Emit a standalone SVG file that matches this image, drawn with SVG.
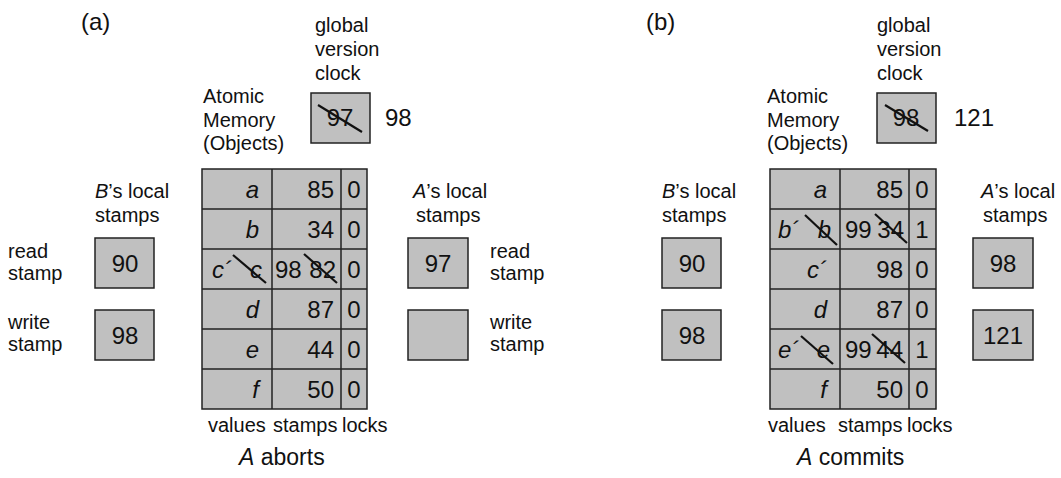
<svg xmlns="http://www.w3.org/2000/svg" width="1061" height="478" viewBox="0 0 1061 478">
<style>
text{font-family:"Liberation Sans",Arial,sans-serif;font-size:20px;fill:#111}
.i{font-style:italic}
.e{text-anchor:end}
.m{text-anchor:middle}
text.d,.d text{font-size:24px}
.cap{font-size:23px}
.pl{font-size:24px}
.box{fill:#c0c0c0;stroke:#222;stroke-width:1.5}
.grid{stroke:#222;stroke-width:1.5;fill:none}
.x{stroke:#111;stroke-width:2.2;fill:none}
</style>
<rect width="1061" height="478" fill="#fff"/>
<g id="connectors"/>

<!-- Panel (a) -->
<g id="panel-a">
<text class="pl" x="81" y="30">(a)</text>
<g id="clock-a">
<text x="315" y="32">global</text>
<text x="315" y="56">version</text>
<text x="315" y="80">clock</text>
<rect class="box" x="311" y="93" width="59" height="50"/>
<text class="d m" x="340" y="126">97</text>
<line class="x" x1="318" y1="105" x2="362" y2="132"/>
<text class="d" x="385" y="126">98</text>
</g>
<g id="memory-a">
<text x="203" y="103">Atomic</text>
<text x="203" y="127">Memory</text>
<text x="203" y="150">(Objects)</text>
<rect class="box" x="202" y="169" width="165" height="240"/>
<path class="grid" d="M272 169V409M341 169V409M202 209H367M202 249H367M202 289H367M202 329H367M202 369H367"/>
<g class="d">
<text class="i e" x="259" y="198">a</text><text class="e" x="334" y="198">85</text><text class="m" x="354" y="198">0</text>
<text class="i e" x="259" y="238">b</text><text class="e" x="334" y="238">34</text><text class="m" x="354" y="238">0</text>
<text class="i" x="212" y="278">c´</text><text class="i e" x="262" y="278">c</text>
<text x="275" y="278">98</text><text class="e" x="336" y="278">82</text>
<text class="m" x="354" y="278">0</text>
<text class="i e" x="259" y="318">d</text><text class="e" x="334" y="318">87</text><text class="m" x="354" y="318">0</text>
<text class="i e" x="259" y="358">e</text><text class="e" x="334" y="358">44</text><text class="m" x="354" y="358">0</text>
<text class="i e" x="259" y="398">f</text><text class="e" x="334" y="398">50</text><text class="m" x="354" y="398">0</text>
</g>
<line class="x" x1="233" y1="255" x2="266" y2="283"/>
<line class="x" x1="304" y1="254" x2="337" y2="283"/>
<text x="208" y="432">values</text>
<text x="273" y="432">stamps</text>
<text x="342" y="432">locks</text>
</g>
<g id="b-stamps-a">
<text x="8" y="258">read</text>
<text x="8" y="280">stamp</text>
<text x="8" y="329">write</text>
<text x="8" y="351">stamp</text>
<text x="95" y="198"><tspan class="i">B</tspan>’s local</text>
<text x="95" y="222">stamps</text>
<rect class="box" x="95" y="238" width="59" height="50"/>
<text class="d m" x="125" y="272">90</text>
<rect class="box" x="95" y="310" width="59" height="50"/>
<text class="d m" x="125" y="344">98</text>
</g>
<g id="a-stamps-a">
<text x="413" y="198"><tspan class="i">A</tspan>’s local</text>
<text x="416" y="222">stamps</text>
<rect class="box" x="408" y="238" width="60" height="50"/>
<text class="d m" x="438" y="272">97</text>
<rect class="box" x="408" y="310" width="60" height="50"/>
<text x="490" y="258">read</text>
<text x="490" y="280">stamp</text>
<text x="490" y="329">write</text>
<text x="490" y="351">stamp</text>
</g>
<text class="cap" x="239" y="465"><tspan class="i">A</tspan> aborts</text>
</g>

<!-- Panel (b) -->
<g id="panel-b">
<text class="pl" x="646" y="30">(b)</text>
<g id="clock-b">
<text x="877" y="32">global</text>
<text x="877" y="56">version</text>
<text x="877" y="80">clock</text>
<rect class="box" x="877" y="93" width="59" height="50"/>
<text class="d m" x="906" y="126">98</text>
<line class="x" x1="885" y1="105" x2="928" y2="131"/>
<text class="d" x="954" y="126">121</text>
</g>
<g id="memory-b">
<text x="767" y="103">Atomic</text>
<text x="767" y="127">Memory</text>
<text x="767" y="150">(Objects)</text>
<rect class="box" x="770" y="169" width="166" height="240"/>
<path class="grid" d="M840 169V409M909 169V409M770 209H936M770 249H936M770 289H936M770 329H936M770 369H936"/>
<g class="d">
<text class="i e" x="827" y="198">a</text><text class="e" x="903" y="198">85</text><text class="m" x="922" y="198">0</text>
<text class="i" x="778" y="238">b´</text><text class="i e" x="831" y="238">b</text>
<text x="845" y="238">99</text><text class="e" x="904" y="238">34</text>
<text class="m" x="922" y="238">1</text>
<text class="i e" x="827" y="278">c´</text><text class="e" x="903" y="278">98</text><text class="m" x="922" y="278">0</text>
<text class="i e" x="827" y="318">d</text><text class="e" x="903" y="318">87</text><text class="m" x="922" y="318">0</text>
<text class="i" x="778" y="358">e´</text><text class="i e" x="830" y="358">e</text>
<text x="845" y="358">99</text><text class="e" x="903" y="358">44</text>
<text class="m" x="922" y="358">1</text>
<text class="i e" x="827" y="398">f</text><text class="e" x="903" y="398">50</text><text class="m" x="922" y="398">0</text>
</g>
<line class="x" x1="805" y1="215" x2="837" y2="245"/>
<line class="x" x1="875" y1="214" x2="907" y2="243"/>
<line class="x" x1="801" y1="336" x2="833" y2="364"/>
<line class="x" x1="872" y1="334" x2="905" y2="363"/>
<text x="768" y="432">values</text>
<text x="838" y="432">stamps</text>
<text x="907" y="432">locks</text>
</g>
<g id="b-stamps-b">
<text x="662" y="198"><tspan class="i">B</tspan>’s local</text>
<text x="662" y="222">stamps</text>
<rect class="box" x="662" y="238" width="59" height="50"/>
<text class="d m" x="692" y="272">90</text>
<rect class="box" x="662" y="310" width="59" height="50"/>
<text class="d m" x="692" y="344">98</text>
</g>
<g id="a-stamps-b">
<text x="981" y="198"><tspan class="i">A</tspan>’s local</text>
<text x="983" y="222">stamps</text>
<rect class="box" x="973" y="238" width="60" height="50"/>
<text class="d m" x="1003" y="272">98</text>
<rect class="box" x="973" y="310" width="60" height="50"/>
<text class="d m" x="1003" y="344">121</text>
</g>
<text class="cap" x="797" y="465"><tspan class="i">A</tspan> commits</text>
</g>
</svg>
